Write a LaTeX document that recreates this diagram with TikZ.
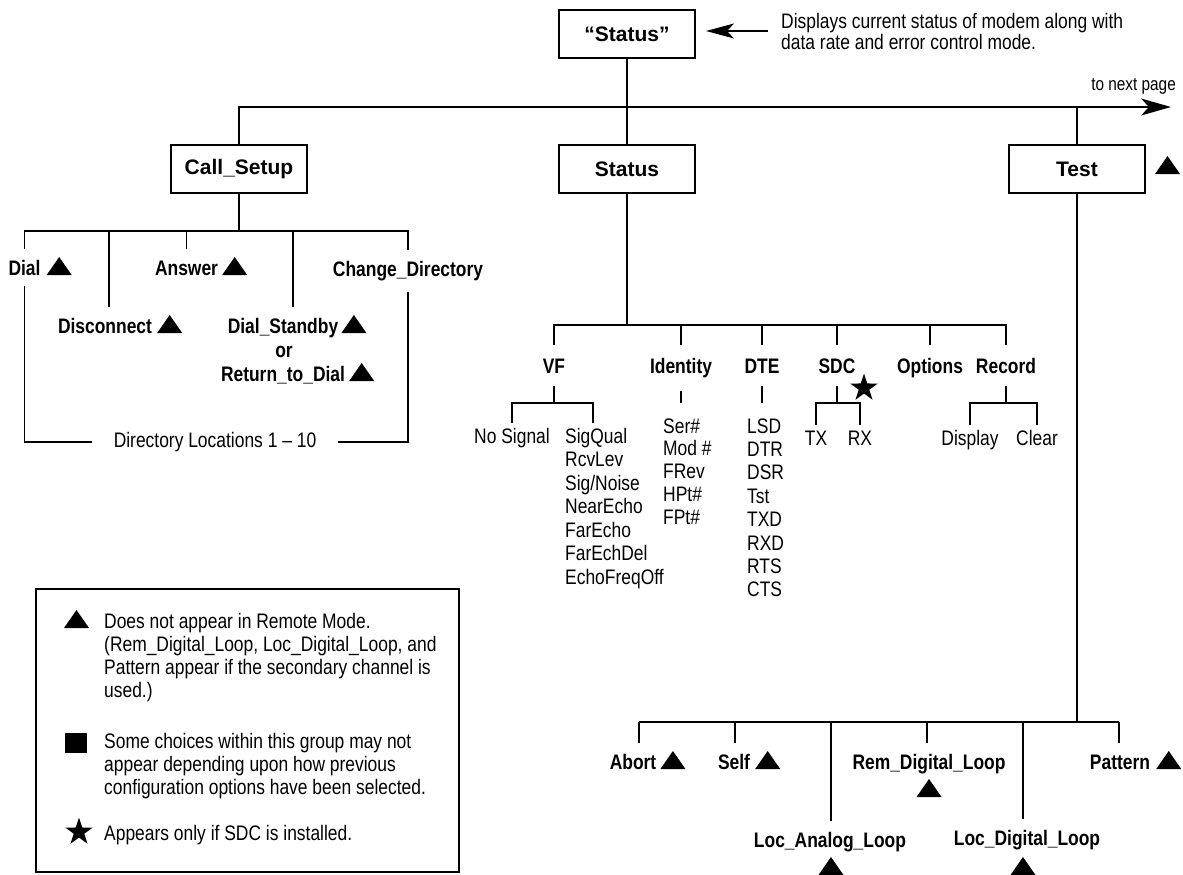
\documentclass[tikz,border=0pt]{standalone}
\usepackage{fontspec}
\setmainfont{Liberation Sans}
\newfontfamily\nar[FakeStretch=0.83]{Liberation Sans}
\usetikzlibrary{arrows.meta,shapes.geometric,calc}
\begin{document}
\begin{tikzpicture}[x=1pt,y=-1pt,
  conn/.style={line width=1.3pt},
  mbox/.style={draw, line width=2.4pt, minimum width=136pt, minimum height=48pt, inner sep=0pt, font=\bfseries\fontsize{21}{24}\selectfont},
  lbl/.style={inner xsep=0pt, inner ysep=11pt, font=\nar\bfseries\fontsize{21}{24}\selectfont},
  lbltwo/.style={lbl, inner ysep=13pt},
  leaf/.style={inner xsep=0pt, inner ysep=5pt, font=\nar\fontsize{21}{24}\selectfont},
  tri/.pic={\fill (0,0) -- (25,0) -- (12.5,-18) -- cycle;},
  starmark/.style={star, star points=5, star point ratio=2.6, fill, draw=none, inner sep=0pt, minimum size=29pt},
  bigtip/.style={-{Stealth[length=30pt,width=17pt,inset=8pt]}}
]
\useasboundingbox (0,0) rectangle (1183,875);

% ---------- top level ----------
\node[mbox] (q) at (627,34) {“Status”};
\node[mbox] (cs) at (239,169) {Call\_Setup};
\node[mbox] (st) at (627,169) {Status};
\node[mbox] (ts) at (1077,169) {Test};
\pic at (1155,174) {tri};

\coordinate (nxt) at (1171,107);
\draw[conn, bigtip] (cs.north) |- (nxt);
\draw[conn] (q.south) -- (st.north);
\draw[conn] (ts.north) -- (ts.north |- nxt);
\node[inner sep=0pt, anchor=base east, font=\nar\fontsize{18.5}{20}\selectfont] (tnp) at (1176,90) {to next page};

\node[leaf, inner sep=0pt, anchor=base west] (d1) at (781,29) {Displays current status of modem along with};
\node[leaf, inner sep=0pt, anchor=base west] (d2) at (781,50) {data rate and error control mode.};
\coordinate (ar) at (768,31);
\coordinate (at) at (706,31);
\draw[conn, -{Stealth[length=28pt,width=15pt,inset=7pt]}] (ar) -- (at);

% ---------- Call_Setup subtree ----------
\coordinate (csb) at (239,231);
\node[lbl, anchor=base] (dial) at (24.5,275) {Dial};
\pic at ([xshift=6pt]dial.base east) {tri};
\node[lbl, anchor=base] (ans) at (186.5,275) {Answer};
\pic at ([xshift=4pt]ans.base east) {tri};
\node[lbl, anchor=base] (chd) at (408,276) {Change\_Directory};
\node[lbl, anchor=base] (disc) at (105,333) {Disconnect};
\pic at ([xshift=5pt]disc.base east) {tri};
\node[lbl, anchor=base] (dsb) at (283,333) {Dial\_Standby};
\pic at ([xshift=3pt]dsb.base east) {tri};
\node[lbl, anchor=base] (orw) at (284,357) {or};
\node[lbl, anchor=base] (rtd) at (283,381) {Return\_to\_Dial};
\pic at ([xshift=4pt]rtd.base east) {tri};

\draw[conn] (cs.south) -- (csb);
\draw[conn] (dial.north) |- (csb) -| (chd.north);
\coordinate (c2) at (109,231);
\coordinate (c4) at (293,231);
\draw[conn] (c2) -- (c2 |- disc.north);
\draw[conn] (ans.north) -- (ans.north |- csb);
\draw[conn] (c4) -- (c4 |- dsb.north);

\node[leaf, inner xsep=22pt, inner ysep=0pt] (dir) at (215,442) {Directory Locations 1 – 10};
\draw[conn] (dial.south) |- (dir.west);
\draw[conn] (dir.east) -| (chd.south);

% ---------- Status subtree ----------
\coordinate (sb) at (627,325);
\draw[conn] (st.south) -- (sb);
\node[lbltwo, anchor=base] (vf) at (554,373) {VF};
\node[lbltwo, anchor=base] (idn) at (681,373) {Identity};
\node[lbltwo, anchor=base] (dte) at (762,373) {DTE};
\node[lbltwo, anchor=base] (sdc) at (837,373) {SDC};
\node[lbltwo, anchor=base] (opt) at (930,373) {Options};
\node[lbltwo, anchor=base] (rec) at (1006,373) {Record};
\draw[conn] (vf.north) |- (sb) -| (rec.north);
\draw[conn] (idn.north) -- (idn.north |- sb);
\draw[conn] (dte.north) -- (dte.north |- sb);
\draw[conn] (sdc.north) -- (sdc.north |- sb);
\draw[conn] (opt.north) -- (opt.north |- sb);

% VF
\coordinate (vfb) at (554,403);
\coordinate (vfr) at (593,403);
\draw[conn] (vf.south) -- (vfb);
\node[leaf, anchor=base] (nosig) at (512,443) {No Signal};
\foreach \t [count=\i from 0] in {SigQual,RcvLev,Sig/Noise,NearEcho,FarEcho,FarEchDel,EchoFreqOff}
  \node[leaf, anchor=base west] (vfl\i) at (565,443+23.5*\i) {\t};
\draw[conn] (nosig.north) |- (vfr) -- (vfr |- vfl0.north);

% Identity
\draw[conn] (idn.south) -- (idn.south |- vfb);
\foreach \t [count=\i from 0] in {Ser\#,Mod \#,FRev,HPt\#,FPt\#}
  \node[leaf, anchor=base west] (idl\i) at (663,433+22.8*\i) {\t};

% DTE
\draw[conn] (dte.south) -- (dte.south |- vfb);
\foreach \t [count=\i from 0] in {LSD,DTR,DSR,Tst,TXD,RXD,RTS,CTS}
  \node[leaf, anchor=base west] (dtl\i) at (747,433+23.4*\i) {\t};

% SDC
\coordinate (sdcb) at (837,403);
\draw[conn] (sdc.south) -- (sdcb);
\node[leaf, anchor=base] (tx) at (816,445) {TX};
\node[leaf, anchor=base] (rx) at (860,445) {RX};
\draw[conn] (tx.north) |- (sdcb) -| (rx.north);
\node[starmark] (sdcstar) at (864,388) {};

% Record
\coordinate (recb) at (1006,403);
\draw[conn] (rec.south) -- (recb);
\node[leaf, anchor=base] (disp) at (970,445) {Display};
\node[leaf, anchor=base] (clr) at (1037,445) {Clear};
\draw[conn] (disp.north) |- (recb) -| (clr.north);

% ---------- Test subtree ----------
\coordinate (tb) at (1077,722);
\draw[conn] (ts.south) -- (tb);
\coordinate (t1) at (639,722);
\coordinate (t2) at (735,722);
\coordinate (t3) at (831,722);
\coordinate (t4) at (927,722);
\coordinate (t5) at (1023,722);
\coordinate (t6) at (1119,722);
\node[lbl, anchor=base] (abort) at (633,769) {Abort};
\pic at ([xshift=4pt]abort.base east) {tri};
\node[lbl, anchor=base] (self) at (734,769) {Self};
\pic at ([xshift=5pt]self.base east) {tri};
\node[lbl, anchor=base] (rem) at (929,769) {Rem\_Digital\_Loop};
\pic at ($(rem.base)+(-12.5,28)$) {tri};
\node[lbl, anchor=base] (pat) at (1120,769) {Pattern};
\pic at ([xshift=6pt]pat.base east) {tri};
\node[lbl, anchor=base] (lal) at (830,847) {Loc\_Analog\_Loop};
\pic at ($(lal.base)+(-11.5,28)$) {tri};
\node[lbl, anchor=base] (ldl) at (1027,845) {Loc\_Digital\_Loop};
\pic at ($(ldl.base)+(-16.5,30)$) {tri};

\draw[conn] (t1) -- (t6);
\draw[conn] (t1) -- (t1 |- abort.north);
\draw[conn] (t2) -- (t2 |- self.north);
\draw[conn] (t3) -- (t3 |- lal.north);
\draw[conn] (t4) -- (t4 |- rem.north);
\draw[conn] (t5) -- (t5 |- ldl.north);
\draw[conn] (t6) -- (t6 |- pat.north);

% ---------- legend ----------
\node[draw, line width=2.4pt, minimum width=423pt, minimum height=283pt, inner sep=0pt] (leg) at (247.5,730.5) {};
\pic at (64,628) {tri};
\node[fill, minimum width=22pt, minimum height=20pt, inner sep=0pt] (lsq) at (76,743) {};
\node[starmark] (lstar) at (79,832) {};
\node[leaf, inner sep=0pt, anchor=base west] (lg1) at (104,628) {Does not appear in Remote Mode.};
\node[leaf, inner sep=0pt, anchor=base west] (lg2) at (104,651) {(Rem\_Digital\_Loop, Loc\_Digital\_Loop, and};
\node[leaf, inner sep=0pt, anchor=base west] (lg3) at (104,674) {Pattern appear if the secondary channel is};
\node[leaf, inner sep=0pt, anchor=base west] (lg4) at (104,697) {used.)};
\node[leaf, inner sep=0pt, anchor=base west] (lg5) at (104,748) {Some choices within this group may not};
\node[leaf, inner sep=0pt, anchor=base west] (lg6) at (104,771) {appear depending upon how previous};
\node[leaf, inner sep=0pt, anchor=base west] (lg7) at (104,794) {configuration options have been selected.};
\node[leaf, inner sep=0pt, anchor=base west] (lg8) at (104,840) {Appears only if SDC is installed.};
\end{tikzpicture}
\end{document}
